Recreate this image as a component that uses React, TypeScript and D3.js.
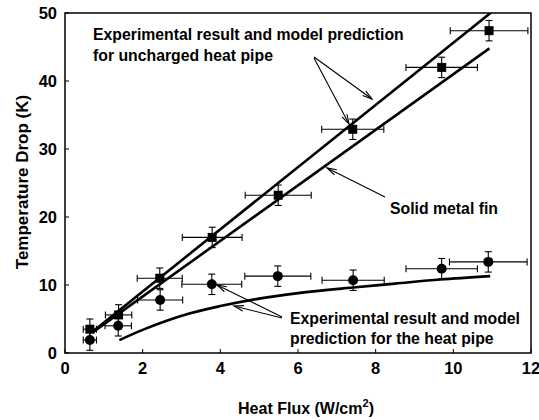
import React from 'react';
import * as d3 from 'd3';

// Heat flux (W/cm2) for each measurement
const fluxUncharged = [0.64, 1.38, 2.44, 3.79, 5.49, 7.41, 9.7, 10.92];
const dropUncharged = [3.5, 5.6, 11.0, 17.0, 23.2, 32.9, 42.0, 47.4];
const fluxErr = [0.17, 0.34, 0.58, 0.77, 0.85, 0.8, 0.92, 1.0];

const fluxHeatPipe = [0.64, 1.37, 2.45, 3.78, 5.48, 7.42, 9.7, 10.9];
const dropHeatPipe = [1.9, 4.0, 7.8, 10.1, 11.3, 10.7, 12.4, 13.4];

const dropErr = 1.5;

// model curves
const modelUncharged: [number, number][] = [[0.7, 3.1], [11.0, 50.2]];
const modelFin: [number, number][] = [[0.7, 3.0], [10.93, 44.8]];
const modelHeatPipe: [number, number][] = [
  [1.4, 1.9], [2.0, 3.4], [2.6, 4.7], [3.2, 5.8], [4.0, 6.9], [5.0, 8.0],
  [6.0, 8.8], [7.35, 9.6], [8.5, 10.2], [9.66, 10.8], [10.95, 11.3],
];

const xTicks = [0, 2, 4, 6, 8, 10, 12];
const yTicks = [0, 10, 20, 30, 40, 50];

const W = 539;
const H = 420;
const m = { left: 65, right: 8, top: 13, bottom: 67 };
const font = '"Liberation Sans", Arial, sans-serif';

function ErrorPoint({ cx, cy, ex, ey, shape }: { cx: number; cy: number; ex: number; ey: number; shape: 'square' | 'circle' }) {
  const cap = 3.5;
  return (
    <g stroke="#000" strokeWidth={1.1}>
      <line x1={cx - ex} x2={cx + ex} y1={cy} y2={cy} />
      <line x1={cx - ex} x2={cx - ex} y1={cy - cap} y2={cy + cap} />
      <line x1={cx + ex} x2={cx + ex} y1={cy - cap} y2={cy + cap} />
      <line x1={cx} x2={cx} y1={cy - ey} y2={cy + ey} />
      <line x1={cx - cap} x2={cx + cap} y1={cy - ey} y2={cy - ey} />
      <line x1={cx - cap} x2={cx + cap} y1={cy + ey} y2={cy + ey} />
      {shape === 'square'
        ? <rect x={cx - 4.5} y={cy - 4.5} width={9} height={9} fill="#000" stroke="none" />
        : <circle cx={cx} cy={cy} r={5} fill="#000" stroke="none" />}
    </g>
  );
}

function Arrow({ x1, y1, x2, y2 }: { x1: number; y1: number; x2: number; y2: number }) {
  const a = Math.atan2(y2 - y1, x2 - x1);
  const len = 10;
  const spread = 0.28;
  const p1 = [x2 - len * Math.cos(a - spread), y2 - len * Math.sin(a - spread)];
  const p2 = [x2 - len * Math.cos(a + spread), y2 - len * Math.sin(a + spread)];
  return (
    <g stroke="#000" strokeWidth={1.1} fill="none">
      <line x1={x1} y1={y1} x2={x2} y2={y2} />
      <polyline points={`${p1[0]},${p1[1]} ${x2},${y2} ${p2[0]},${p2[1]}`} />
    </g>
  );
}

export default function App() {
  const x = d3.scaleLinear().domain([0, 12]).range([m.left, W - m.right]);
  const y = d3.scaleLinear().domain([0, 50]).range([H - m.bottom, m.top]);
  const line = d3.line<[number, number]>().x(d => x(d[0])).y(d => y(d[1]));
  const curve = d3.line<[number, number]>().x(d => x(d[0])).y(d => y(d[1])).curve(d3.curveMonotoneX);
  const ey = y(0) - y(dropErr);

  return (
    <svg width={W} height={H} style={{ position: 'absolute', left: 0, top: 0 }} fontFamily={font}>
      <defs>
        <clipPath id="plot">
          <rect x={m.left} y={m.top} width={W - m.left - m.right} height={H - m.top - m.bottom} />
        </clipPath>
      </defs>
      <rect x={0} y={0} width={W} height={H} fill="#fff" />

      {/* frame */}
      <rect x={m.left} y={m.top} width={W - m.left - m.right} height={H - m.top - m.bottom}
        fill="none" stroke="#000" strokeWidth={1.5} />

      {/* ticks */}
      {xTicks.map(t => (
        <g key={'x' + t}>
          <line x1={x(t)} x2={x(t)} y1={y(0)} y2={y(0) - 4} stroke="#000" />
          <text x={x(t)} y={y(0) + 21} textAnchor="middle" fontSize={16.5} fontWeight="bold">{t}</text>
        </g>
      ))}
      {yTicks.map(t => (
        <g key={'y' + t}>
          <line x1={x(0)} x2={x(0) + 4} y1={y(t)} y2={y(t)} stroke="#000" />
          <text x={x(0) - 8} y={y(t) + 6} textAnchor="end" fontSize={16.5} fontWeight="bold">{t}</text>
        </g>
      ))}

      {/* axis titles */}
      <text x={306} y={414} textAnchor="middle" fontSize={16} fontWeight="bold">
        Heat Flux (W/cm<tspan dy={-7} fontSize={11}>2</tspan><tspan dy={7}>)</tspan>
      </text>
      <text transform={`translate(28, ${182}) rotate(-90)`} textAnchor="middle" fontSize={17} fontWeight="bold">
        Temperature Drop (K)
      </text>

      {/* model curves */}
      <g clipPath="url(#plot)" fill="none" stroke="#000" strokeWidth={2.6}>
        <path d={line(modelUncharged) ?? ''} />
        <path d={line(modelFin) ?? ''} />
        <path d={curve(modelHeatPipe) ?? ''} />
      </g>

      {/* measurements */}
      {fluxUncharged.map((f, i) => (
        <ErrorPoint key={'s' + i} cx={x(f)} cy={y(dropUncharged[i])} ex={x(fluxErr[i]) - x(0)} ey={ey} shape="square" />
      ))}
      {fluxHeatPipe.map((f, i) => (
        <ErrorPoint key={'c' + i} cx={x(f)} cy={y(dropHeatPipe[i])} ex={x(fluxErr[i]) - x(0)} ey={ey} shape="circle" />
      ))}

      {/* annotations */}
      <g fontSize={15.8} fontWeight="bold">
        <text x={93} y={40}>Experimental result and model prediction</text>
        <text x={93} y={61}>for uncharged heat pipe</text>
        <text x={390} y={214}>Solid metal fin</text>
        <text x={290} y={324}>Experimental result and model</text>
        <text x={290} y={344}>prediction for the heat pipe</text>
      </g>
      <Arrow x1={314} y1={57} x2={372} y2={99} />
      <Arrow x1={314} y1={58} x2={349} y2={124} />
      <Arrow x1={385} y1={197} x2={327} y2={168} />
      <Arrow x1={282} y1={317} x2={217} y2={285} />
      <Arrow x1={282} y1={318} x2={234} y2={306} />
    </svg>
  );
}
